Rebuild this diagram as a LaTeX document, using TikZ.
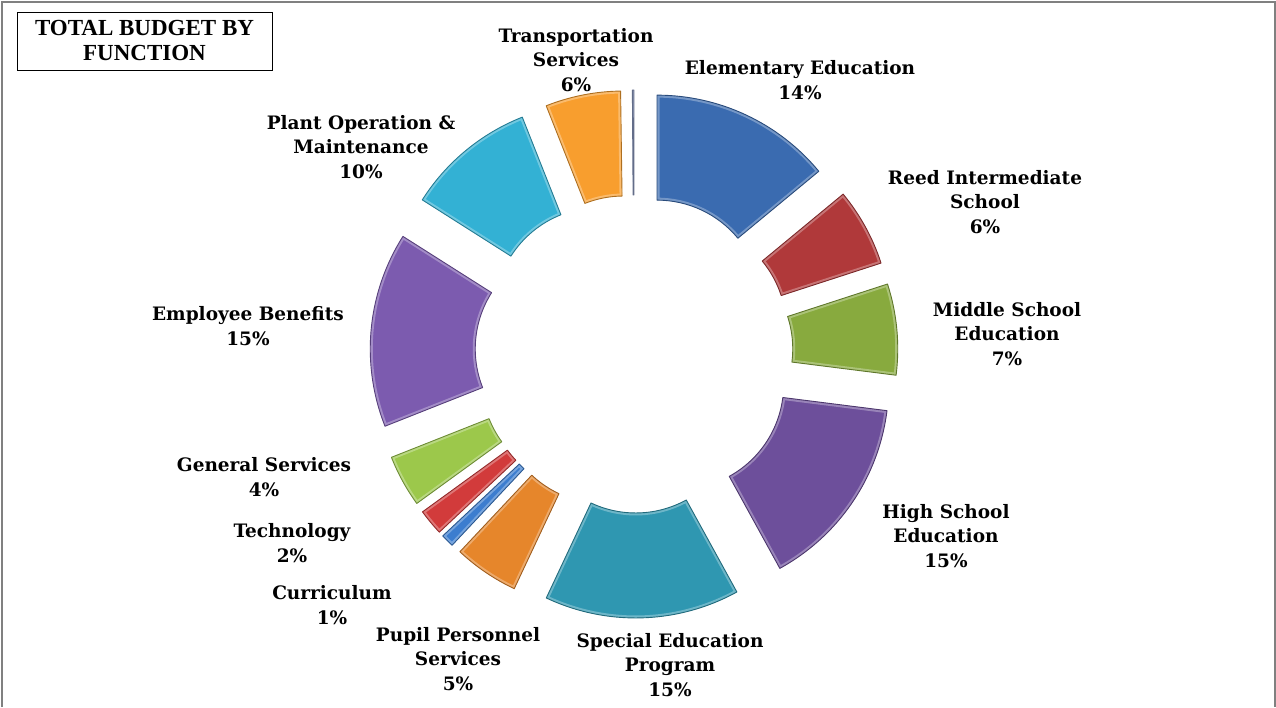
\documentclass[tikz,border=0pt]{standalone}
\usepackage{fontspec}
\setmainfont{DejaVu Serif}
\newfontfamily\titlefont{Liberation Serif}
\definecolor{cElem}{HTML}{3A6BB0}
\definecolor{cReed}{HTML}{B0393A}
\definecolor{cMid}{HTML}{88AA3E}
\definecolor{cHigh}{HTML}{6D4F9B}
\definecolor{cSpec}{HTML}{2F97B1}
\definecolor{cPupil}{HTML}{E6862B}
\definecolor{cCurr}{HTML}{3C7DCF}
\definecolor{cTech}{HTML}{D23B3B}
\definecolor{cGen}{HTML}{9CC84B}
\definecolor{cEmp}{HTML}{7C5BAF}
\definecolor{cPlant}{HTML}{33B1D4}
\definecolor{cTrans}{HTML}{F89E2E}
\definecolor{cNone}{HTML}{8D9CC4}
\tikzset{
  slice/.style={draw=#1!70!black, line width=0.9pt, line join=round},
  bevel/.style={draw=white, opacity=0.3, line width=5pt},
  lab/.style={align=center, font=\bfseries\fontsize{18.5}{24.5}\selectfont},
}
\newcommand{\slicepath}{(\aA:210pt) arc[start angle=\aA, end angle=\aB, radius=210pt]
  -- (\aB:105pt) arc[start angle=\aB, end angle=\aA, radius=105pt] -- cycle}
\newcommand{\donutslice}[3]{%
  \pgfmathsetmacro\aA{90-#1}\pgfmathsetmacro\aB{90-#2}\pgfmathsetmacro\aM{(\aA+\aB)/2}
  \begin{scope}[shift={(\aM:54pt)}]
    \fill[#3] \slicepath;
    \begin{scope}
      \clip \slicepath;
      \draw[bevel] \slicepath;
    \end{scope}
    \draw[slice=#3] \slicepath;
  \end{scope}}
\begin{document}
\begin{tikzpicture}[x=1pt, y=1pt]
\useasboundingbox (0,0) rectangle (1276,707);
\draw[gray, line width=1.2pt] (2,0) -- (2,705) -- (1275,705) -- (1275,0);
\begin{scope}[shift={(634,353)}]
\donutslice{0}{50.4}{cElem}
\donutslice{50.4}{72}{cReed}
\donutslice{72}{97.2}{cMid}
\donutslice{97.2}{151.2}{cHigh}
\donutslice{151.2}{205.2}{cSpec}
\donutslice{205.2}{223.2}{cPupil}
\donutslice{223.2}{226.8}{cCurr}
\donutslice{226.8}{234}{cTech}
\donutslice{234}{248.4}{cGen}
\donutslice{248.4}{302.4}{cEmp}
\donutslice{302.4}{338.4}{cPlant}
\donutslice{338.4}{359.2}{cTrans}
\donutslice{359.6}{360}{cNone}
\end{scope}
\node[draw, line width=0.8pt, minimum width=255pt, minimum height=58pt, align=center,
  font=\titlefont\bfseries\fontsize{23}{25}\selectfont] (T_0) at (144.5,666) {TOTAL BUDGET BY\\FUNCTION};
\node[lab] (L_0) at (800,627) {Elementary Education\\14\%};
\node[lab] (L_1) at (985,505) {Reed Intermediate\\School\\6\%};
\node[lab] (L_2) at (1007,373) {Middle School\\Education\\7\%};
\node[lab] (L_3) at (946,171) {High School\\Education\\15\%};
\node[lab] (L_4) at (670,42) {Special Education\\Program\\15\%};
\node[lab] (L_5) at (458,48) {Pupil Personnel\\Services\\5\%};
\node[lab] (L_6) at (332,102) {Curriculum\\1\%};
\node[lab] (L_7) at (292,164) {Technology\\2\%};
\node[lab] (L_8) at (264,230) {General Services\\4\%};
\node[lab] (L_9) at (248,381) {Employee Benefits\\15\%};
\node[lab] (L_10) at (361,560) {Plant Operation \&\\Maintenance\\10\%};
\node[lab] (L_11) at (576,647) {Transportation\\Services\\6\%};
\end{tikzpicture}
\end{document}
